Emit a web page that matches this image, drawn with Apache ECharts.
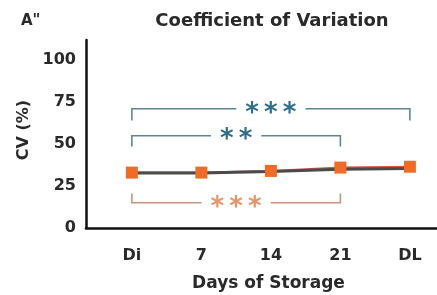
<!DOCTYPE html>
<html><head><meta charset="utf-8">
<script src="https://cdn.jsdelivr.net/npm/echarts@6/dist/echarts.min.js"></script>
<style>html,body{margin:0;padding:0;background:#fff}#c{width:437px;height:295px}</style>
</head><body><div id="c"></div>
<script>
var categories = ['Di', '7', '14', '21', 'DL'];
var orangeValues = [33, 33, 34, 36, 36.5];
var orangeErr = [1.2, 1.2, 1.2, 1.5, 2.2];
var darkValues = [32.8, 32.8, 33.6, 35, 35.5];
var yTicks = [0, 25, 50, 75, 100];
var bracketX1 = [0, 0, 0];
var bracketX2 = [4, 3, 3];
var bracketY = [71, 55, 15];
var bracketEnd = [64, 48.5, 20.5];
var bracketText = ['***', '**', '***'];
var bracketGroup = ['blue', 'blue', 'orange'];

var FONT = 'DejaVu Sans, sans-serif';
var ORANGE = '#ef6b26';
var colors = {
  blue: {line: '#5f8595', text: '#2f6f8e'},
  orange: {line: '#c9937a', text: '#ec9466'}
};

var xy = function (vals) { return vals.map(function (v, i) { return [i, v]; }); };

var bracketData = bracketX1.map(function (x1, i) {
  return [x1, bracketX2[i], bracketY[i], bracketEnd[i], i];
});

var chart = echarts.init(document.getElementById('c'), null, {renderer: 'canvas'});
chart.setOption({
  animation: false,
  backgroundColor: '#fff',
  title: [{
    text: 'Coefficient of Variation', left: 267, top: 7, textAlign: 'center',
    textStyle: {fontFamily: FONT, fontWeight: 'bold', fontSize: 18, color: '#2a2a2a'}
  }, {
    text: 'A"', left: 16, top: 9,
    textStyle: {fontFamily: FONT, fontWeight: 'bold', fontSize: 15, color: '#2a2a2a'}
  }],
  grid: {left: 86, right: 0, top: 40, bottom: 67, containLabel: false, outerBoundsMode: 'none'},
  xAxis: {
    type: 'value', min: -0.66, max: 4.39,
    axisLine: {show: true, onZero: false, lineStyle: {color: '#111', width: 2.5}},
    axisTick: {show: false},
    splitLine: {show: false},
    axisLabel: {
      customValues: [0, 1, 2, 3, 4],
      formatter: function (v) { return categories[Math.round(v)]; },
      margin: 20, fontFamily: FONT, fontWeight: 'bold', fontSize: 16, color: '#2a2a2a'
    },
    name: 'Days of Storage', nameLocation: 'middle', nameGap: 47,
    nameTextStyle: {fontFamily: FONT, fontWeight: 'bold', fontSize: 17, color: '#2a2a2a', padding: [0, 0, 0, 14]}
  },
  yAxis: {
    type: 'value', min: 0, max: 112,
    axisLine: {show: true, onZero: false, lineStyle: {color: '#111', width: 2.5}},
    axisTick: {show: false},
    splitLine: {show: false},
    axisLabel: {
      customValues: yTicks,
      margin: 10, fontFamily: FONT, fontWeight: 'bold', fontSize: 16, color: '#2a2a2a'
    },
    name: 'CV (%)', nameLocation: 'middle', nameGap: 54,
    nameTextStyle: {fontFamily: FONT, fontWeight: 'bold', fontSize: 16, color: '#2a2a2a', padding: [0, 0, 0, 8]}
  },
  series: [{
    type: 'line', data: xy(orangeValues), symbol: 'none',
    lineStyle: {color: '#d35a45', width: 2}, z: 2
  }, {
    type: 'line', data: xy(darkValues), symbol: 'none',
    lineStyle: {color: '#4b4b4b', width: 3}, z: 3
  }, {
    type: 'custom', z: 4,
    data: orangeValues.map(function (v, i) { return [i, v - orangeErr[i], v + orangeErr[i]]; }),
    renderItem: function (params, api) {
      var lo = api.coord([api.value(0), api.value(1)]);
      var hi = api.coord([api.value(0), api.value(2)]);
      var s = {stroke: ORANGE, lineWidth: 1.5};
      return {type: 'group', children: [
        {type: 'line', shape: {x1: lo[0], y1: lo[1], x2: hi[0], y2: hi[1]}, style: s},
        {type: 'line', shape: {x1: lo[0] - 3, y1: lo[1], x2: lo[0] + 3, y2: lo[1]}, style: s},
        {type: 'line', shape: {x1: hi[0] - 3, y1: hi[1], x2: hi[0] + 3, y2: hi[1]}, style: s}
      ]};
    }
  }, {
    type: 'scatter', data: xy(orangeValues), symbol: 'rect', symbolSize: 12,
    itemStyle: {color: ORANGE, opacity: 1}, z: 5
  }, {
    type: 'custom', z: 6,
    data: bracketData,
    renderItem: function (params, api) {
      var idx = api.value(4);
      var c = colors[bracketGroup[idx]];
      var x1 = api.value(0), x2 = api.value(1), y = api.value(2), ye = api.value(3);
      var a = api.coord([x1, ye]), b = api.coord([x1, y]), cc = api.coord([x2, y]), d = api.coord([x2, ye]);
      var mid = api.coord([(x1 + x2) / 2, y]);
      return {type: 'group', children: [
        {type: 'polyline', shape: {points: [a, b, cc, d]}, style: {stroke: c.line, lineWidth: 1.6, fill: null}},
        {type: 'text', x: mid[0], y: mid[1] + 5, z2: 10, style: {
          text: bracketText[idx].split('').join('\u2009'), align: 'center', verticalAlign: 'middle',
          fontFamily: 'DejaVu Sans', fontWeight: 'bold', fontSize: 26, fill: c.text,
          backgroundColor: '#fff', padding: [0, 9, 0, 9]
        }}
      ]};
    }
  }]
});
</script></body></html>
